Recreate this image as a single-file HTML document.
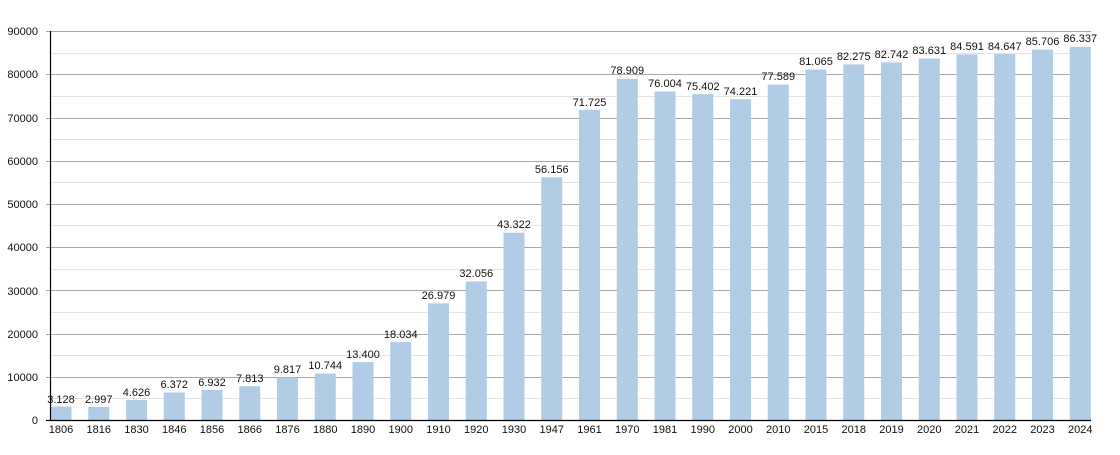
<!DOCTYPE html>
<html><head><meta charset="utf-8"><style>
html,body{margin:0;padding:0;background:#fff;}
text{font-family:"Liberation Sans",Arial,sans-serif;font-size:11px;fill:#111;}
</style></head><body>
<svg width="1120" height="450" xmlns="http://www.w3.org/2000/svg">
<g stroke="#e4e4e4" stroke-width="1">
<line x1="50" x2="1091" y1="398.5" y2="398.5"/><line x1="50" x2="1091" y1="355.5" y2="355.5"/>
<line x1="50" x2="1091" y1="312.5" y2="312.5"/><line x1="50" x2="1091" y1="269.5" y2="269.5"/>
<line x1="50" x2="1091" y1="225.5" y2="225.5"/><line x1="50" x2="1091" y1="182.5" y2="182.5"/>
<line x1="50" x2="1091" y1="139.5" y2="139.5"/><line x1="50" x2="1091" y1="96.5" y2="96.5"/>
<line x1="50" x2="1091" y1="53.5" y2="53.5"/>
</g>
<g stroke="#a8a8a8" stroke-width="1">
<line x1="46" x2="1091" y1="377.5" y2="377.5"/><line x1="46" x2="1091" y1="334.5" y2="334.5"/>
<line x1="46" x2="1091" y1="290.5" y2="290.5"/><line x1="46" x2="1091" y1="247.5" y2="247.5"/>
<line x1="46" x2="1091" y1="204.5" y2="204.5"/><line x1="46" x2="1091" y1="161.5" y2="161.5"/>
<line x1="46" x2="1091" y1="118.5" y2="118.5"/><line x1="46" x2="1091" y1="74.5" y2="74.5"/>
<line x1="46" x2="1091" y1="31.5" y2="31.5"/>
</g>
<g fill="#b1cce6">
<rect x="50.5" y="406.5" width="21" height="13.5"/>
<rect x="88.25" y="407" width="21" height="13"/>
<rect x="126" y="400" width="21" height="20"/>
<rect x="163.75" y="392.5" width="21" height="27.5"/>
<rect x="201.5" y="390" width="21" height="30"/>
<rect x="239.25" y="386.2" width="21" height="33.8"/>
<rect x="277" y="377.6" width="21" height="42.4"/>
<rect x="314.75" y="373.6" width="21" height="46.4"/>
<rect x="352.5" y="362.1" width="21" height="57.9"/>
<rect x="390.25" y="342.1" width="21" height="77.9"/>
<rect x="428" y="303.4" width="21" height="116.6"/>
<rect x="465.75" y="281.4" width="21" height="138.6"/>
<rect x="503.5" y="232.8" width="21" height="187.2"/>
<rect x="541.25" y="177.3" width="21" height="242.7"/>
<rect x="579" y="110" width="21" height="310"/>
<rect x="616.75" y="78.9" width="21" height="341.1"/>
<rect x="654.5" y="91.5" width="21" height="328.5"/>
<rect x="692.25" y="94.1" width="21" height="325.9"/>
<rect x="730" y="99.2" width="21" height="320.8"/>
<rect x="767.75" y="84.6" width="21" height="335.4"/>
<rect x="805.5" y="69.6" width="21" height="350.4"/>
<rect x="843.25" y="64.4" width="21" height="355.6"/>
<rect x="881" y="62.4" width="21" height="357.6"/>
<rect x="918.75" y="58.5" width="21" height="361.5"/>
<rect x="956.5" y="54.4" width="21" height="365.6"/>
<rect x="994.25" y="54.1" width="21" height="365.9"/>
<rect x="1032" y="49.6" width="21" height="370.4"/>
<rect x="1069.75" y="46.8" width="21" height="373.2"/>
</g>
<g stroke="#000" stroke-width="1.2">
<line x1="50.5" x2="50.5" y1="31" y2="421"/>
<line x1="50" x2="1091" y1="420.5" y2="420.5"/>
<line x1="46" x2="50" y1="420.5" y2="420.5"/>
</g>
<g text-anchor="end">
<text x="38" y="35">90000</text><text x="38" y="78">80000</text><text x="38" y="122">70000</text>
<text x="38" y="165">60000</text><text x="38" y="208">50000</text><text x="38" y="251">40000</text>
<text x="38" y="295">30000</text><text x="38" y="338">20000</text><text x="38" y="381">10000</text>
<text x="38" y="424">0</text>
</g>
<g text-anchor="middle">
<text x="61" y="403">3.128</text><text x="98.75" y="403">2.997</text><text x="136.5" y="396">4.626</text>
<text x="174.25" y="388">6.372</text><text x="212" y="386">6.932</text><text x="249.75" y="382">7.813</text>
<text x="287.5" y="373">9.817</text><text x="325.25" y="369">10.744</text><text x="363" y="358">13.400</text>
<text x="400.75" y="338">18.034</text><text x="438.5" y="299">26.979</text><text x="476.25" y="277">32.056</text>
<text x="514" y="228">43.322</text><text x="551.75" y="173">56.156</text><text x="589.5" y="106">71.725</text>
<text x="627.25" y="74">78.909</text><text x="665" y="87">76.004</text><text x="702.75" y="90">75.402</text>
<text x="740.5" y="95">74.221</text><text x="778.25" y="80">77.589</text><text x="816" y="65">81.065</text>
<text x="853.75" y="60">82.275</text><text x="891.5" y="58">82.742</text><text x="929.25" y="54">83.631</text>
<text x="967" y="50">84.591</text><text x="1004.75" y="50">84.647</text><text x="1042.5" y="45">85.706</text>
<text x="1080.25" y="42">86.337</text>
</g>
<g text-anchor="middle">
<text x="61" y="433">1806</text><text x="98.75" y="433">1816</text><text x="136.5" y="433">1830</text>
<text x="174.25" y="433">1846</text><text x="212" y="433">1856</text><text x="249.75" y="433">1866</text>
<text x="287.5" y="433">1876</text><text x="325.25" y="433">1880</text><text x="363" y="433">1890</text>
<text x="400.75" y="433">1900</text><text x="438.5" y="433">1910</text><text x="476.25" y="433">1920</text>
<text x="514" y="433">1930</text><text x="551.75" y="433">1947</text><text x="589.5" y="433">1961</text>
<text x="627.25" y="433">1970</text><text x="665" y="433">1981</text><text x="702.75" y="433">1990</text>
<text x="740.5" y="433">2000</text><text x="778.25" y="433">2010</text><text x="816" y="433">2015</text>
<text x="853.75" y="433">2018</text><text x="891.5" y="433">2019</text><text x="929.25" y="433">2020</text>
<text x="967" y="433">2021</text><text x="1004.75" y="433">2022</text><text x="1042.5" y="433">2023</text>
<text x="1080.25" y="433">2024</text>
</g>
</svg>
</body></html>
